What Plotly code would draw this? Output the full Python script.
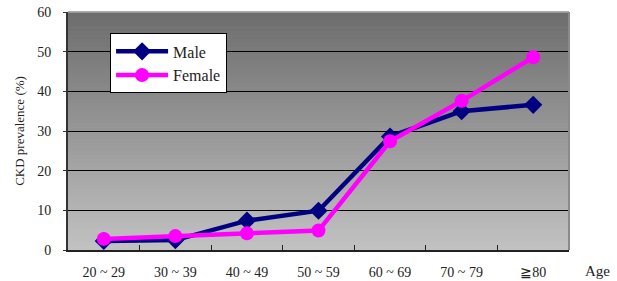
import plotly.graph_objects as go

categories = ["20 ~ 29", "30 ~ 39", "40 ~ 49", "50 ~ 59", "60 ~ 69", "70 ~ 79", "≧80"]
male = [2.3, 2.5, 7.4, 9.9, 28.6, 35.0, 36.6]
female = [2.8, 3.5, 4.2, 4.9, 27.4, 37.6, 48.6]
y_ticks = [0, 10, 20, 30, 40, 50, 60]

FONT = "Liberation Serif, DejaVu Serif, serif"

fig = go.Figure()
fig.add_trace(go.Scatter(
    x=categories, y=male, name="Male", mode="lines+markers",
    line=dict(color="#000080", width=4.5),
    marker=dict(symbol="diamond", size=14, color="#000080"),
))
fig.add_trace(go.Scatter(
    x=categories, y=female, name="Female", mode="lines+markers",
    line=dict(color="#FF00FF", width=4.5),
    marker=dict(symbol="circle", size=14, color="#FF00FF"),
))

# gradient background stripes
n = 60
top = (0x6c, 0x6c, 0x6c)
bot = (0xc2, 0xc2, 0xc2)
shapes = []
for i in range(n):
    t = (i + 0.5) / n
    c = tuple(int(round(bot[k] + (top[k] - bot[k]) * t)) for k in range(3))
    shapes.append(dict(type="rect", xref="x domain", yref="y domain",
                       x0=0, x1=1, y0=i / n, y1=(i + 1) / n + 0.002,
                       fillcolor="rgb(%d,%d,%d)" % c, line=dict(width=0), layer="below"))
# frame lines
shapes.append(dict(type="line", xref="x domain", yref="y domain", x0=0, x1=1, y0=1, y1=1,
                   line=dict(color="#a8a8a8", width=1.5)))
shapes.append(dict(type="line", xref="x domain", yref="y domain", x0=1, x1=1, y0=0, y1=1,
                   line=dict(color="#8a8a8a", width=2)))

fig.update_layout(
    width=617, height=281,
    margin=dict(l=68, r=48, t=12, b=31, autoexpand=False),
    paper_bgcolor="white",
    plot_bgcolor="#a0a0a0",
    shapes=shapes,
    font=dict(family=FONT, color="#222222"),
    showlegend=True,
    legend=dict(
        x=0.084, y=0.91, xanchor="left", yanchor="top",
        bgcolor="white", bordercolor="black", borderwidth=1,
        font=dict(family=FONT, size=16, color="#222222"),
        tracegroupgap=0, itemwidth=52, entrywidth=100,
    ),
    xaxis=dict(
        type="category", categoryorder="array", categoryarray=categories,
        range=[-0.5, 6.5], showgrid=False, showline=True, linecolor="#222222", linewidth=2,
        ticks="inside", tickson="boundaries", ticklen=5, tickcolor="#222222",
        tickfont=dict(size=14, family=FONT), ticklabelstandoff=8, automargin=False,
    ),
    yaxis=dict(
        range=[0, 60], tickvals=y_ticks, showgrid=True, gridcolor="black", gridwidth=1,
        showline=True, linecolor="#333333", linewidth=2, zeroline=False,
        ticks="outside", ticklen=3, tickcolor="#333333",
        tickfont=dict(size=14, family=FONT), ticklabelstandoff=9, automargin=False,
        title=dict(text="CKD prevalence (%)", font=dict(size=13, family=FONT), standoff=10),
    ),
    annotations=[dict(text="Age", xref="paper", yref="paper", x=1.028, y=-0.09,
                      xanchor="left", yanchor="middle", showarrow=False,
                      font=dict(size=15, family=FONT, color="#222222"))],
)

fig.write_html("out.html", config={"displayModeBar": False},
               post_script="document.body.style.margin='0';document.body.style.overflow='hidden';")
